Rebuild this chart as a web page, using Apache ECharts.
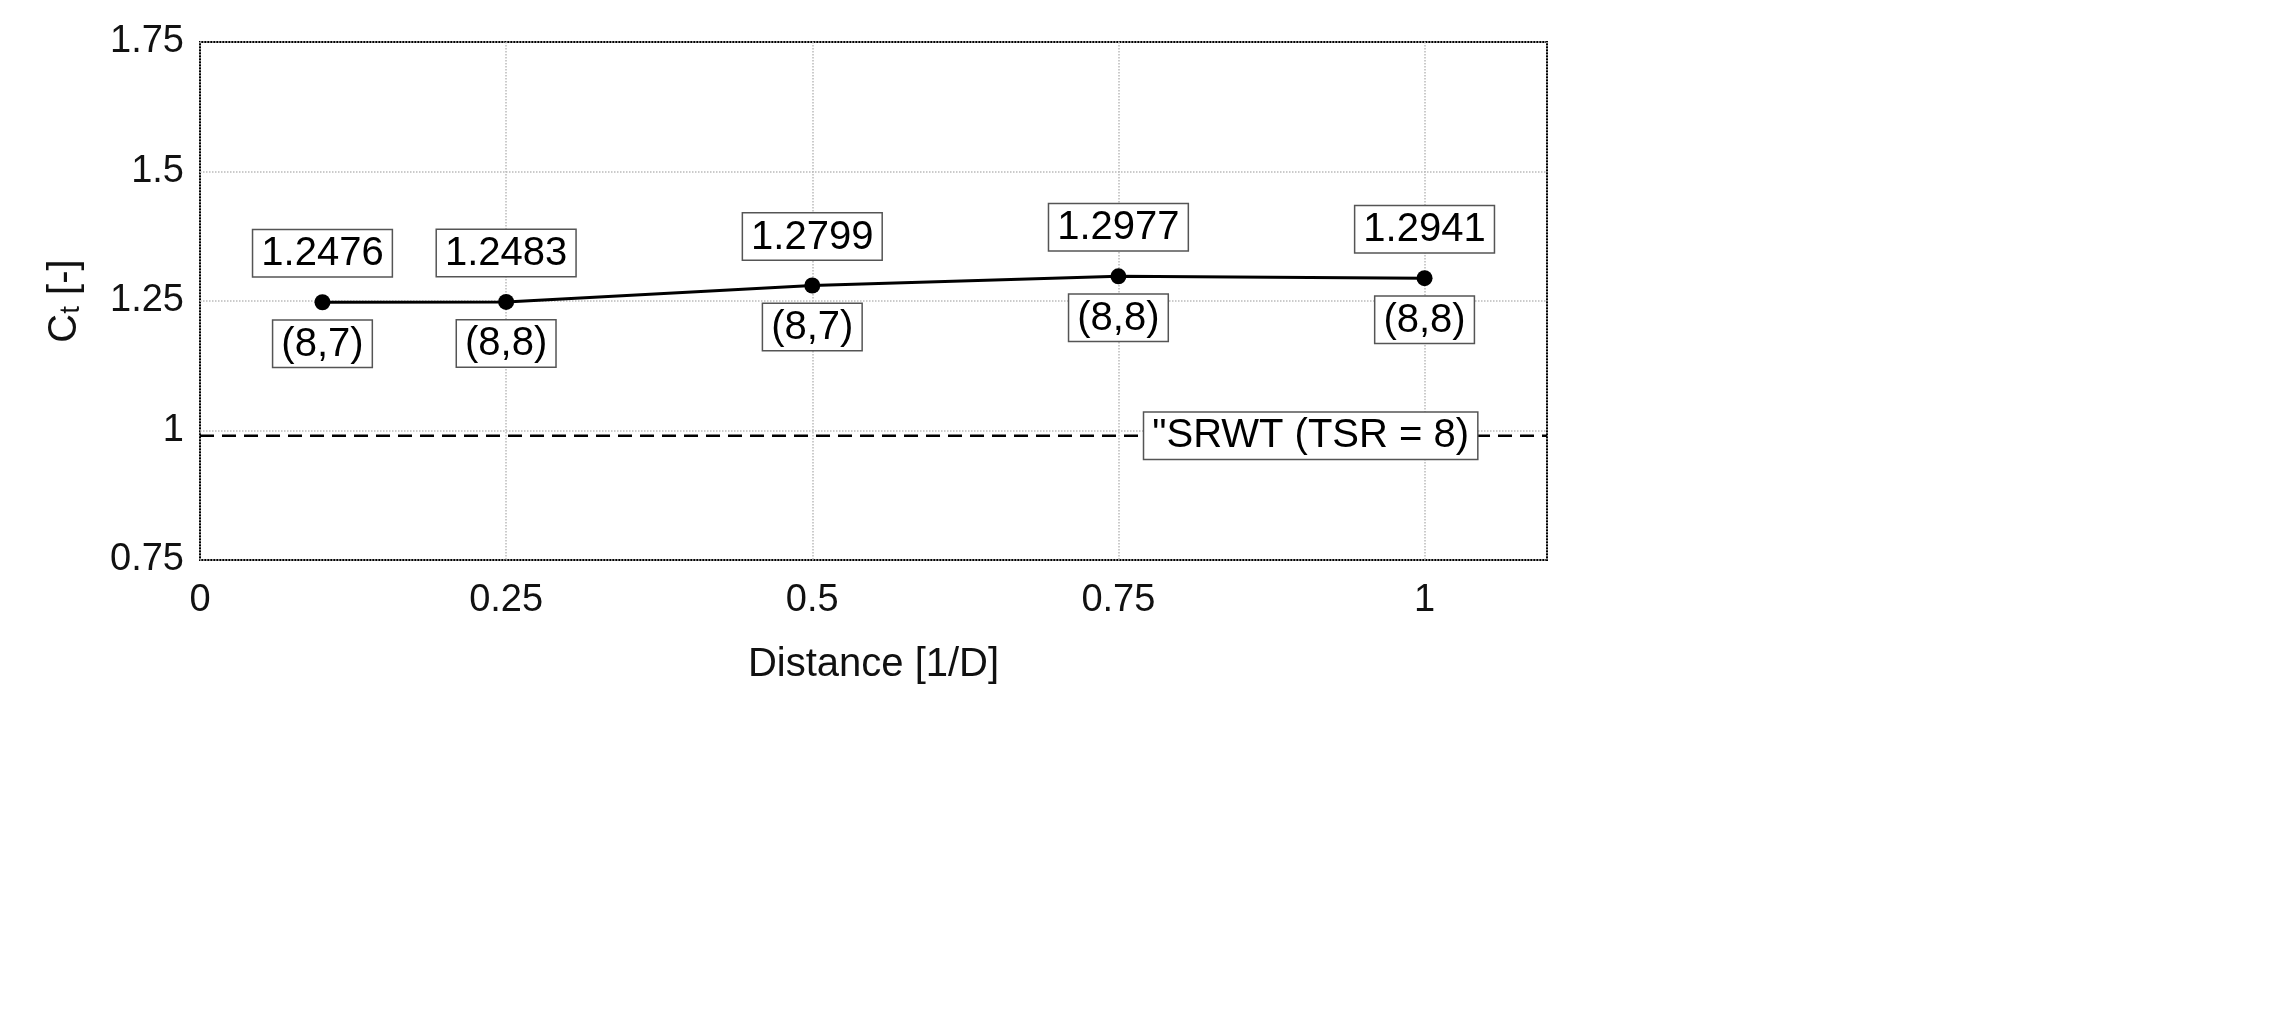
<!DOCTYPE html>
<html><head><meta charset="utf-8">
<script src="https://cdn.jsdelivr.net/npm/echarts@6/dist/echarts.min.js"></script>
<style>html,body{margin:0;background:#fff}#c{width:2277px;height:1019px}</style>
</head><body><div id="c"></div>
<script>
const distances = [0.1, 0.25, 0.5, 0.75, 1.0];
const ctValues = [1.2476, 1.2483, 1.2799, 1.2977, 1.2941];
const gridLabels = ['(8,7)', '(8,8)', '(8,7)', '(8,8)', '(8,8)'];
const srwtValue = 0.99;
const srwtLabel = '"SRWT (TSR = 8)';
const xTicks = [0, 0.25, 0.5, 0.75, 1];

const box = {backgroundColor:'#fff', borderColor:'#555', borderWidth:1.5, padding:[4,8,2,8], color:'#000', opacity:1, fontSize:40, fontFamily:'Liberation Sans, Arial'};
const chart = echarts.init(document.getElementById('c'));
chart.setOption({
  animation:false,
  grid:{left:200, right:730, top:42, bottom:459, show:true, borderColor:'#000', borderWidth:2},
  xAxis:{type:'value', min:0, max:1.1, interval:0.25,
    axisLine:{show:false}, axisTick:{show:false},
    axisLabel:{fontSize:38, color:'#111', margin:22, fontFamily:'Liberation Sans, Arial',
      formatter:v=> xTicks.includes(v)? String(v):''},
    splitLine:{lineStyle:{type:'dotted', color:'#bbb', width:1.5}},
    name:'Distance [1/D]', nameLocation:'middle', nameGap:85,
    nameTextStyle:{fontSize:40, color:'#111', fontFamily:'Liberation Sans, Arial'}},
  yAxis:{type:'value', min:0.75, max:1.75, interval:0.25,
    axisLine:{show:false}, axisTick:{show:false},
    axisLabel:{fontSize:38, color:'#111', margin:16, fontFamily:'Liberation Sans, Arial'},
    splitLine:{lineStyle:{type:'dotted', color:'#bbb', width:1.5}},
    name:'{a|C}{b|t}{a| [-]}', nameLocation:'middle', nameGap:115, nameRotate:90,
    nameTextStyle:{rich:{a:{fontSize:40, color:'#111', fontFamily:'Liberation Sans, Arial'},
      b:{fontSize:28, color:'#111', verticalAlign:'bottom', fontFamily:'Liberation Sans, Arial'}}}},
  series:[
    {type:'line', z:1, data:[[0,srwtValue],[1.1,srwtValue]], symbol:'none', silent:true,
      lineStyle:{color:'#000', width:2.5, type:[14,8]}},
    {type:'line', z:3, data:distances.map((d,i)=>[d,ctValues[i]]), symbol:'circle', symbolSize:16,
      itemStyle:{color:'#000'}, lineStyle:{color:'#000', width:3},
      label:{show:true, position:'top', distance:18, formatter:p=>ctValues[p.dataIndex].toFixed(4), ...box}},
    {type:'scatter', z:5, data:distances.map((d,i)=>[d,ctValues[i]]), symbolSize:1,
      itemStyle:{color:'rgba(0,0,0,0)', opacity:1},
      label:{show:true, position:'bottom', distance:18, formatter:p=>gridLabels[p.dataIndex], ...box}},
    {type:'scatter', z:5, data:[[0.907,srwtValue]], symbolSize:1,
      itemStyle:{color:'rgba(0,0,0,0)', opacity:1},
      label:{show:true, position:'inside', formatter:srwtLabel, ...box}}
  ]
});
</script></body></html>
